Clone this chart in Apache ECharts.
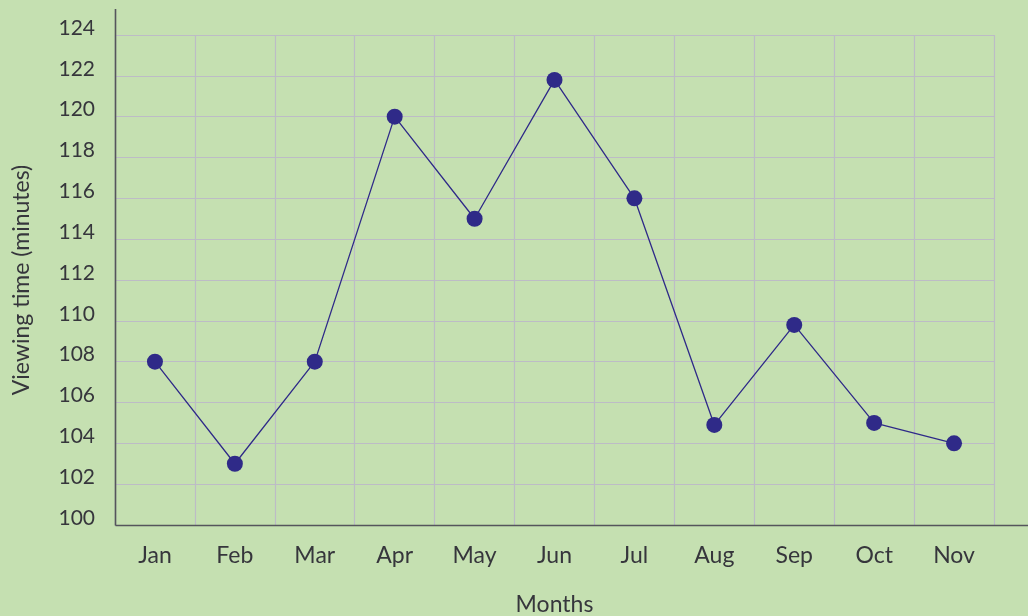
<!DOCTYPE html>
<html>
<head>
<meta charset="utf-8">
<script src="https://cdn.jsdelivr.net/npm/echarts@6/dist/echarts.min.js"></script>
<style>
  html, body { margin: 0; padding: 0; background: #c5e0b1; }
  #chart { width: 1028px; height: 616px; }
</style>
</head>
<body>
<div id="chart"></div>
<script>
// Monthly average viewing time
const months = ['Jan', 'Feb', 'Mar', 'Apr', 'May', 'Jun', 'Jul', 'Aug', 'Sep', 'Oct', 'Nov'];
const viewingMinutes = [108, 103, 108, 120, 115, 121.8, 116, 104.9, 109.8, 105, 104];
const yTicks = { min: 100, max: 124, step: 2 };

const FONT = 'Lato, "Open Sans", sans-serif';
const TEXT = '#36363c';
const GRID_LINE = '#bdbcc6';
const AXIS_LINE = '#55555c';
const SERIES = '#2f2a88';

const chart = echarts.init(document.getElementById('chart'), null, { renderer: 'canvas' });

chart.setOption({
  backgroundColor: '#c5e0b1',
  animation: false,
  grid: { left: 115, right: 34, top: 35, bottom: 91, containLabel: false, outerBoundsMode: 'none' },
  xAxis: {
    type: 'category',
    data: months,
    boundaryGap: true,
    name: 'Months',
    nameLocation: 'middle',
    nameGap: 68,
    nameTextStyle: { color: TEXT, fontFamily: FONT, fontSize: 23 },
    axisLine: { show: false },
    axisTick: { show: false },
    axisLabel: { color: TEXT, fontFamily: FONT, fontSize: 23, margin: 19 },
    splitLine: { show: true, interval: 0, lineStyle: { color: GRID_LINE, width: 1.2 } }
  },
  yAxis: {
    type: 'value',
    min: yTicks.min,
    max: yTicks.max,
    interval: yTicks.step,
    name: 'Viewing time (minutes)',
    nameLocation: 'middle',
    nameGap: 82,
    nameTextStyle: { color: TEXT, fontFamily: FONT, fontSize: 23 },
    axisLine: { show: false },
    axisTick: { show: false },
    axisLabel: {
      color: TEXT, fontFamily: FONT, fontSize: 21, margin: 20,
      verticalAlign: 'bottom', lineHeight: 14
    },
    splitLine: { show: true, lineStyle: { color: GRID_LINE, width: 1.2 } }
  },
  series: [{
    type: 'line',
    data: viewingMinutes,
    symbol: 'circle',
    symbolSize: 16,
    lineStyle: { color: SERIES, width: 1.3 },
    itemStyle: { color: SERIES },
    z: 5
  }]
});

// Axis lines run past the plotting area: the y axis rises above the top
// gridline and the x axis continues to the right edge of the canvas.
function drawAxisLines() {
  const first = chart.convertToPixel({ gridIndex: 0 }, [0, yTicks.min]);
  const second = chart.convertToPixel({ gridIndex: 0 }, [1, yTicks.min]);
  const top = chart.convertToPixel({ gridIndex: 0 }, [0, yTicks.max]);
  const half = (second[0] - first[0]) / 2;
  const x0 = Math.round(first[0] - half) + 0.5;
  const yb = Math.round(first[1]) + 0.5;
  const width = chart.getWidth();
  chart.setOption({
    graphic: [
      {
        type: 'line', z: 10,
        shape: { x1: x0, y1: top[1] - 26, x2: x0, y2: yb },
        style: { stroke: AXIS_LINE, lineWidth: 1.6 }
      },
      {
        type: 'line', z: 10,
        shape: { x1: x0, y1: yb, x2: width, y2: yb },
        style: { stroke: AXIS_LINE, lineWidth: 1.6 }
      }
    ]
  });
}
drawAxisLines();
</script>
</body>
</html>
